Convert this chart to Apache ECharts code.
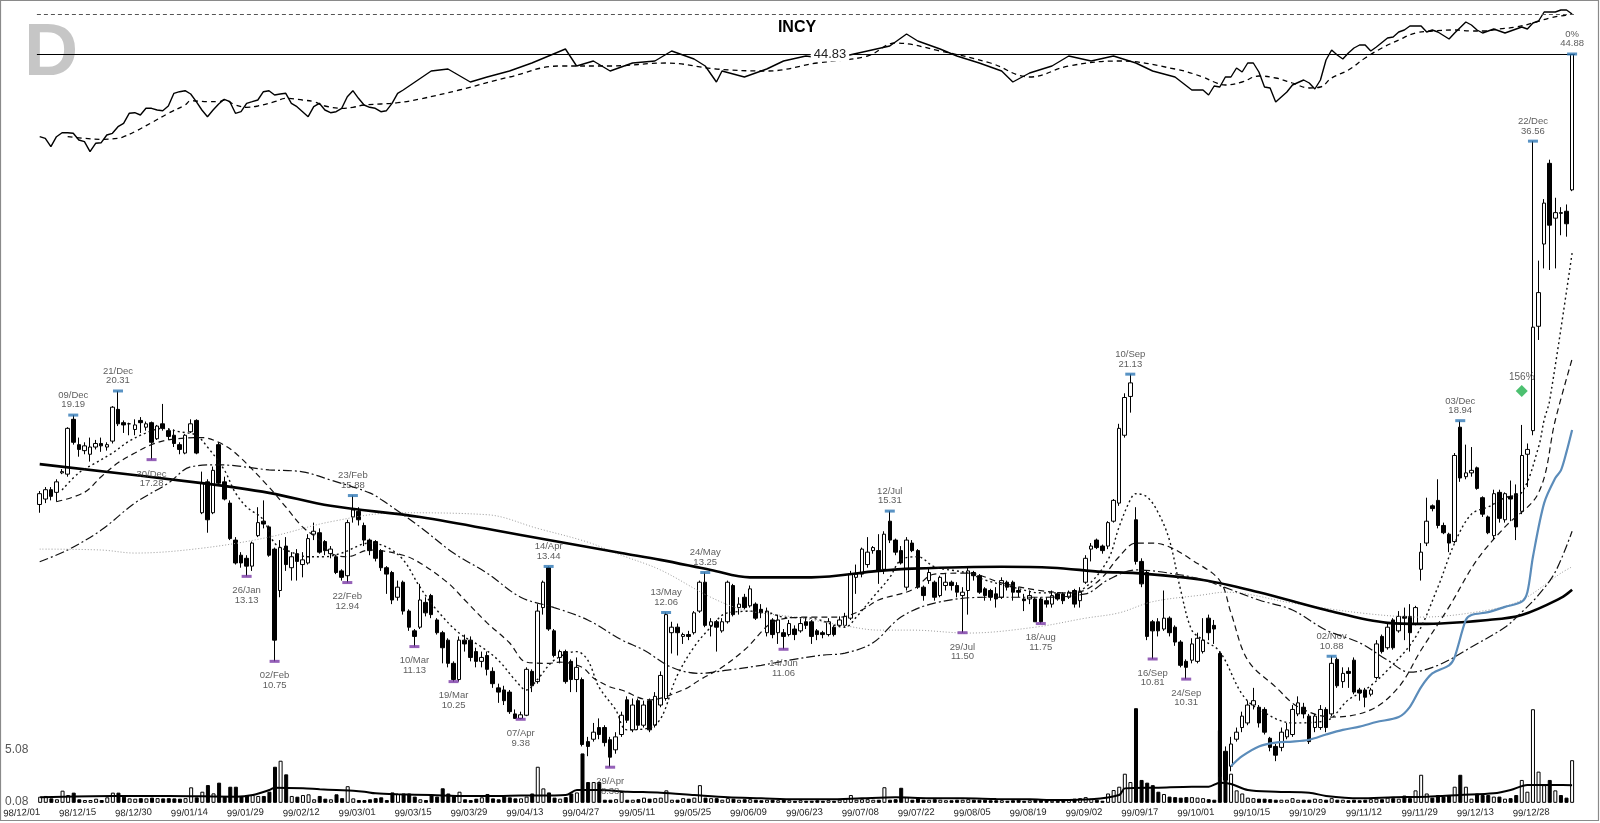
<!DOCTYPE html>
<html><head><meta charset="utf-8">
<script src="https://cdn.jsdelivr.net/npm/echarts@6/dist/echarts.min.js"></script>
<style>html,body{margin:0;padding:0;background:#fff}#c{width:1600px;height:823px}</style>
</head><body><div id="c"></div>
<script>
// ---- calendar (trading days, NYSE holidays) ----
const holidays = ['1998-12-25','1999-01-01','1999-01-18','1999-02-15','1999-04-02','1999-05-31','1999-07-05','1999-09-06','1999-11-25','1999-12-24'];
function tradingDays(y0,m0,d0,y1,m1,d1){
  const out=[]; let t=Date.UTC(y0,m0-1,d0); const end=Date.UTC(y1,m1-1,d1);
  while(t<=end){const d=new Date(t);const wd=d.getUTCDay();
    const iso=d.toISOString().slice(0,10);
    if(wd!==0&&wd!==6&&holidays.indexOf(iso)<0){
      out.push(String(d.getUTCFullYear()%100).padStart(2,'0')+'/'+String(d.getUTCMonth()+1).padStart(2,'0')+'/'+String(d.getUTCDate()).padStart(2,'0'));}
    t+=86400000;}
  return out;
}
const dates = tradingDays(1998,12,1,2000,1,3);

// ---- OHLC: [open, close, low, high] ----
const ohlc = [
[15.55,15.95,15.25,16.05],[15.75,16.1,15.6,16.2],[16.1,15.85,15.7,16.2],[16.0,16.4,15.65,16.5],[16.75,16.8,16.7,16.9],
[16.7,18.6,16.6,18.65],[19.0,18.0,17.9,19.19],[17.9,17.7,17.4,18.2],[17.65,17.85,17.5,18.0],[17.5,17.8,17.2,18.2],
[17.8,17.95,17.7,18.1],[17.95,17.85,17.6,18.2],[17.8,17.9,17.65,18.0],[18.05,19.55,17.95,19.6],[19.45,18.8,18.7,20.31],
[18.85,18.75,18.4,18.95],[18.8,18.8,18.3,18.85],[18.55,18.75,18.3,19.0],[18.95,18.85,18.4,19.1],[18.65,18.8,18.5,18.9],
[18.85,18.0,17.28,18.9],[18.15,18.7,18.1,18.75],[18.8,18.6,18.5,19.7],[18.5,18.25,18.1,18.6],[18.3,17.95,17.8,18.55],
[17.9,17.7,17.5,18.0],[17.55,18.3,17.5,18.35],[18.45,18.8,18.4,19.0],[18.95,17.55,17.5,19.0],[15.25,16.35,15.2,16.8],
[16.4,15.0,14.55,16.5],[15.25,16.85,15.2,17.0],[17.9,16.35,16.3,18.0],[16.4,15.75,15.7,16.6],[15.6,14.35,14.3,15.7],
[14.3,13.55,13.5,14.4],[13.8,13.55,13.4,13.9],[13.7,13.45,13.13,13.8],[13.45,14.2,13.3,14.25],[14.45,14.9,14.4,15.45],
[14.95,14.85,14.7,15.7],[14.75,13.8,13.75,14.8],[14.0,11.3,10.75,14.05],[12.7,14.05,12.5,14.3],[14.1,13.5,13.3,14.4],
[13.4,13.75,13.0,13.9],[13.85,13.6,13.0,14.0],[13.5,13.65,13.1,13.9],[13.55,14.35,13.5,14.5],[14.5,14.6,14.3,14.9],
[14.55,13.9,13.85,14.7],[14.25,13.95,13.8,14.3],[13.85,14.0,13.7,14.1],[13.75,13.25,13.2,13.8],[13.3,13.1,13.0,13.35],
[13.15,14.9,12.94,15.0],[15.1,15.35,14.9,15.88],[15.3,15.0,14.8,15.45],[14.8,14.3,14.1,14.9],[14.3,13.95,13.8,14.35],
[14.25,13.7,13.6,14.3],[13.95,13.4,13.3,14.0],[13.4,13.2,12.6,13.45],[13.25,12.42,12.3,13.3],[12.5,12.8,12.4,13.0],
[12.95,12.1,12.0,13.0],[12.1,11.65,11.55,12.15],[11.55,11.4,11.13,11.6],[11.65,12.42,11.6,12.9],[12.35,12.05,11.95,12.5],
[12.55,12.0,11.9,12.6],[11.85,11.5,11.45,11.9],[11.5,11.1,10.7,11.55],[11.3,10.7,10.6,11.35],[10.7,10.3,10.25,10.75],
[10.3,11.3,10.25,11.4],[11.3,11.2,11.0,11.45],[11.3,10.85,10.75,11.4],[11.0,10.75,10.6,11.1],[10.75,10.85,10.6,11.0],
[10.9,10.55,10.4,11.0],[10.5,10.2,10.1,10.6],[10.1,10.0,9.75,10.2],[10.05,9.8,9.7,10.15],[10.0,9.55,9.5,10.05],
[9.5,9.4,9.4,9.6],[9.4,9.48,9.38,9.55],[9.47,10.55,9.45,10.6],[10.5,10.15,10.0,10.55],[10.25,12.1,10.2,12.3],
[12.2,12.95,12.0,13.0],[13.4,11.6,11.55,13.44],[11.55,10.9,10.85,11.6],[10.85,11.0,10.7,11.05],[11.0,10.25,10.2,11.05],
[10.75,10.3,10.0,10.8],[10.3,10.6,10.0,10.85],[10.3,8.84,8.8,10.35],[8.9,8.8,8.6,9.0],[8.95,9.1,8.9,9.3],
[9.2,9.05,8.95,9.4],[9.2,8.88,8.8,9.25],[8.94,8.58,8.38,9.0],[8.73,9.0,8.65,9.1],[9.05,9.47,9.0,9.55],
[9.82,9.36,9.3,9.9],[9.15,9.7,9.1,9.85],[9.8,9.25,9.15,9.85],[9.25,9.7,9.2,9.8],[9.8,9.15,9.1,9.85],
[9.25,9.9,9.2,10.0],[9.7,10.4,9.65,10.5],[9.85,12.0,9.8,12.06],[11.5,11.65,10.95,11.8],[11.65,11.5,10.9,11.75],
[11.4,11.45,11.2,11.5],[11.45,11.4,11.3,11.55],[11.5,12.05,11.45,12.1],[12.1,12.95,12.05,13.0],[12.95,11.7,11.65,13.25],
[11.7,11.8,11.4,11.9],[11.8,11.65,11.0,11.85],[11.55,11.8,11.5,11.9],[11.8,12.95,11.75,13.0],[12.85,12.0,11.95,12.9],
[12.2,12.3,12.0,12.5],[12.5,12.2,12.15,12.6],[12.25,12.75,12.2,12.85],[12.3,11.9,11.85,12.35],[12.15,12.05,11.9,12.3],
[11.5,12.1,11.4,12.2],[11.85,11.45,11.35,11.9],[11.5,11.85,11.2,12.0],[11.5,11.4,11.06,11.6],[11.45,11.75,11.4,11.85],
[11.6,11.45,11.3,11.7],[11.55,11.75,11.5,11.9],[11.8,11.7,11.6,11.9],[11.8,11.4,11.2,11.85],[11.55,11.45,11.3,11.6],
[11.5,11.45,11.35,11.55],[11.45,11.8,11.4,11.9],[11.65,11.45,11.4,11.7],[11.7,11.85,11.65,11.95],[11.7,11.95,11.65,12.05],
[11.9,13.2,11.85,13.3],[13.1,13.2,12.6,13.5],[13.2,14.0,13.1,14.05],[13.5,13.9,13.4,14.4],[13.95,14.05,13.85,14.1],
[13.95,13.3,12.9,14.5],[13.35,14.5,13.2,14.6],[14.95,14.3,14.2,15.31],[14.3,13.9,13.8,14.35],[13.95,13.55,13.5,14.1],
[12.8,14.3,12.7,14.4],[14.2,13.95,13.9,14.3],[13.95,12.8,12.75,14.0],[12.8,12.55,12.4,12.85],[13.0,13.25,12.9,13.4],
[12.95,12.5,12.4,13.0],[12.55,13.1,12.5,13.15],[12.85,12.95,12.7,13.2],[12.95,12.85,12.7,13.0],[12.85,12.65,12.5,12.95],
[12.55,12.65,11.5,12.8],[12.7,13.3,12.0,13.4],[13.25,13.15,13.0,13.3],[13.15,12.65,12.6,13.2],[12.75,12.55,12.4,12.8],
[12.7,12.5,12.4,12.75],[12.6,12.45,12.2,12.8],[12.5,13.0,12.45,13.1],[12.95,12.8,12.7,13.0],[12.95,12.65,12.4,13.0],
[12.7,12.65,12.5,12.8],[12.45,12.4,12.1,12.6],[12.45,12.55,12.3,12.7],[12.45,11.8,11.8,12.5],[12.45,11.8,11.75,12.5],
[12.4,12.3,12.2,12.5],[12.3,12.55,12.2,12.7],[12.6,12.45,12.4,12.65],[12.6,12.4,12.3,12.65],[12.5,12.65,12.45,12.7],
[12.7,12.3,12.2,12.75],[12.4,12.65,12.2,12.8],[12.95,13.7,12.9,13.8],[14.0,14.1,13.6,14.2],[14.3,14.05,14.0,14.35],
[14.1,13.95,13.85,14.15],[14.1,14.9,14.0,14.95],[14.95,15.7,14.9,15.75],[15.6,18.6,15.5,18.8],[18.3,20.0,18.2,20.2],
[20.05,20.7,19.3,21.13],[15.0,13.6,13.5,15.45],[13.6,12.9,12.8,13.7],[13.25,11.4,11.3,13.3],[11.8,11.55,10.81,11.85],
[11.8,11.55,11.4,11.9],[11.6,11.9,11.55,12.7],[11.9,11.5,11.4,11.95],[11.65,11.25,11.15,11.7],[11.25,10.65,10.6,11.3],
[10.75,10.6,10.31,10.8],[10.78,11.2,10.7,11.35],[10.75,11.35,10.7,11.5],[11.0,11.3,10.95,11.9],[11.9,11.5,11.3,12.0],
[11.7,11.6,11.2,11.85],[10.95,8.2,7.9,11.0],[8.7,8.13,8.0,8.8],[8.4,8.85,8.3,9.0],[8.95,9.1,8.9,9.2],
[9.2,9.45,9.1,9.55],[9.3,9.7,9.25,9.8],[9.7,9.8,9.6,10.1],[9.65,9.3,9.2,9.7],[9.6,9.1,9.05,9.65],
[8.97,8.78,8.7,9.0],[8.8,8.62,8.5,8.85],[8.78,9.1,8.7,9.2],[9.0,9.15,8.95,9.3],[9.05,9.6,9.0,9.7],
[9.5,9.75,9.45,9.9],[9.65,9.5,9.4,9.75],[9.45,8.9,8.85,9.5],[9.2,9.45,9.1,9.5],[9.2,9.6,9.15,9.7],
[9.6,9.2,9.1,9.65],[9.5,10.7,9.45,10.88],[10.8,10.15,10.1,10.85],[10.25,10.45,10.1,10.6],[10.5,10.45,10.1,10.6],
[10.78,10.0,9.95,10.85],[10.05,9.98,9.8,10.1],[10.05,9.88,9.65,10.1],[9.95,10.05,9.9,10.1],[10.35,11.2,10.3,11.3],
[11.4,11.0,10.95,11.45],[11.1,11.65,11.05,11.75],[11.85,11.1,11.05,11.9],[11.55,11.95,11.5,12.1],[11.95,11.9,11.3,12.2],
[11.95,11.5,11.0,12.3],[11.75,12.2,11.7,12.25],[13.35,13.9,13.0,14.2],[14.2,14.95,14.1,15.8],[15.5,15.4,15.3,15.55],
[15.7,14.8,14.7,16.5],[14.8,14.55,14.5,14.9],[14.5,14.2,13.9,14.55],[14.25,17.45,14.2,17.55],[18.65,16.55,16.4,18.94],
[16.6,16.75,16.5,17.9],[16.75,16.85,16.6,17.8],[16.95,16.15,16.1,17.0],[15.8,15.2,15.1,15.85],[15.1,14.55,14.5,15.15],
[14.45,15.95,14.3,16.1],[16.0,15.05,14.9,16.1],[15.0,15.95,14.9,16.0],[15.85,15.75,14.95,16.45],[15.95,14.75,14.3,16.3],
[15.3,17.45,15.2,18.75],[17.5,17.7,16.2,17.95],[18.5,23.6,18.3,36.56],[23.65,25.6,22.9,27.6],[28.7,31.6,27.1,31.9],
[34.7,30.0,27.0,35.0],[30.5,30.9,27.1,32.0],[30.9,30.85,29.3,31.3],[31.0,30.1,29.2,31.5],[32.6,44.83,32.5,44.88]
];

// ---- volume ----
const volume = [
0.59,0.66,0.43,0.34,1.17,0.75,0.98,0.34,0.27,0.27, 0.4,0.27,0.53,0.98,0.98,0.59,0.43,0.4,0.45,0.43,
0.5,0.45,0.43,0.45,0.43,0.4,0.45,1.49,0.53,1.07, 1.71,0.91,1.94,0.59,1.55,1.55,0.66,0.75,0.75,0.66,
0.66,1.07,3.47,4.05,2.74,0.66,0.59,0.75,0.82,0.34, 0.66,0.4,0.34,0.82,0.45,1.6,0.43,0.27,0.27,0.34,
0.45,0.53,0.27,1.0,0.85,0.9,0.9,0.6,0.34,0.27, 0.75,0.6,1.4,0.9,0.65,1.07,0.34,0.27,0.4,0.53,
0.85,0.43,0.34,0.6,0.53,0.43,0.43,0.6,0.9,3.47, 1.39,1.0,0.5,0.4,0.55,0.9,1.0,4.75,2.0,2.0,
2.0,0.3,0.3,0.35,1.05,0.3,0.3,0.35,0.5,0.4, 0.45,0.5,1.2,0.3,0.3,0.45,0.4,0.5,1.7,0.5,
0.45,0.45,0.3,0.45,0.4,0.3,0.35,0.35,0.3,0.25, 0.3,0.3,0.25,0.3,0.25,0.2,0.25,0.2,0.2,0.25,
0.2,0.25,0.2,0.3,0.4,0.75,0.3,0.35,0.35,0.3, 0.3,1.5,0.3,0.35,1.45,0.55,0.3,0.45,0.3,0.3,
0.35,0.3,0.25,0.25,0.3,0.3,0.35,0.3,0.3,0.3, 0.25,0.25,0.25,0.2,0.25,0.3,0.2,0.25,0.3,0.3,
0.25,0.2,0.2,0.25,0.3,0.4,0.45,0.55,0.4,0.3, 0.2,0.9,1.23,1.55,2.8,2.0,9.1,2.2,1.94,1.7,
1.07,0.85,0.6,0.55,0.5,0.55,0.55,0.5,0.45,0.35, 0.3,7.0,4.75,2.8,1.2,0.9,0.5,0.45,0.4,0.4,
0.35,0.3,0.3,0.3,0.45,0.3,0.3,0.3,0.4,0.35, 0.3,0.45,0.3,0.3,0.25,0.3,0.25,0.3,0.35,0.4,
0.35,0.5,0.45,0.4,0.7,0.45,1.2,2.7,0.9,0.5, 0.75,0.6,0.75,1.55,2.7,1.55,0.4,0.9,0.75,0.75,
0.6,0.6,0.4,0.45,0.75,2.2,1.07,9.0,3.0,1.7, 2.2,1.2,0.75,0.5,4.1
];
const volMaPts = [[0,0.53],[13,0.66],[23,0.66],[35,0.59],[38,0.75],[41,1.23],[42,1.46],[47,1.4],[50,1.3],[53,1.23],[56,1.17],[58,1.07],[60,0.91],[64,0.82],[70,0.75],[76,0.66],[82,0.66],[86,0.7],[89,0.7],[94,0.75],[96,1.23],[100,1.23],[105,1.07],[111,0.98],[117,0.75],[123,0.53],[129,0.44],[135,0.34],[141,0.34],[147,0.44],[153,0.53],[159,0.44],[165,0.44],[171,0.37],[177,0.34],[182,0.27],[188,0.34],[193,0.75],[194,1.39],[200,1.46],[206,1.55],[209,1.55],[211,1.94],[213,1.81],[216,1.23],[221,1.07],[227,0.98],[230,0.66],[236,0.44],[242,0.53],[248,0.59],[254,0.75],[260,0.91],[263,1.23],[266,1.71],[271,1.71],[274,1.7]];

// ---- moving averages: [dayIndex, price] ----
const ma200Pts = [[0,17.1],[29,16.35],[41,15.98],[52,15.5],[68,15.1],[86,14.47],[104,13.87],[111,13.65],[120,13.33],[127,13.1],[138,13.1],[150,13.3],[156,13.37],[172,13.43],[181,13.4],[190,13.27],[196,13.23],[208,13.02],[218,12.65],[230,12.13],[241,11.77],[247,11.74],[259,11.85],[265,11.99],[272,12.48],[274,12.72]];
const ma100Pts = [[0,14.0],[11,13.97],[17,13.87],[29,14.03],[41,14.4],[52,14.93],[64,15.25],[80,15.18],[89,14.7],[98,14.23],[104,13.8],[111,13.33],[120,12.5],[126,12.13],[135,11.93],[144,11.69],[150,11.57],[156,11.57],[166,11.49],[178,11.65],[187,11.9],[193,12.05],[199,12.37],[208,12.57],[212,12.65],[224,12.33],[236,12.05],[247,11.93],[259,12.13],[265,12.42],[272,13.23],[274,13.43]];
const ma50Pts = [[0,13.59],[5,13.97],[11,14.64],[17,15.6],[23,16.35],[27,16.99],[32,17.07],[41,16.87],[47,16.79],[52,16.47],[59,15.98],[62,15.6],[68,14.75],[74,13.87],[80,13.23],[86,12.5],[92,12.2],[98,11.85],[104,11.31],[108,11.04],[113,10.6],[118,10.45],[123,10.53],[129,10.65],[134,10.78],[140,10.91],[144,10.96],[149,11.23],[154,11.93],[160,12.33],[169,12.5],[178,12.5],[187,12.6],[191,13.02],[196,13.33],[202,13.23],[208,13.02],[218,12.42],[224,12.13],[230,11.57],[236,11.23],[241,10.78],[245,10.48],[250,10.65],[256,11.12],[262,11.65],[265,12.07],[268,12.57],[271,13.27],[274,14.6]];
const ma20Pts = [[3,15.65],[8,16.0],[11,16.6],[14,17.15],[17,17.55],[20,17.9],[23,18.1],[29,18.2],[32,18.0],[35,17.55],[41,16.2],[44,15.46],[47,14.75],[50,14.3],[52,13.87],[55,13.75],[59,13.97],[65,13.8],[68,13.55],[73,12.93],[76,12.42],[80,11.77],[84,11.23],[87,10.73],[91,10.7],[93,10.73],[97,10.6],[99,10.34],[102,10.12],[104,10.05],[109,9.82],[115,10.05],[118,10.29],[122,10.6],[126,11.04],[132,11.85],[138,11.93],[143,11.93],[147,12.13],[150,12.42],[156,12.72],[160,13.2],[166,13.23],[172,12.93],[178,12.72],[184,12.63],[187,12.72],[190,13.1],[193,13.75],[196,14.2],[199,14.2],[202,14.07],[206,13.65],[211,13.0],[213,12.05],[216,10.78],[221,10.12],[225,9.66],[231,9.43],[238,9.59],[243,10.12],[247,11.04],[252,12.22],[257,13.65],[262,14.75],[268,15.98],[271,18.97],[274,21.9]];
const ma10Pts = [[4,16.09],[7,16.75],[10,17.15],[13,17.55],[16,18.05],[19,18.4],[22,18.6],[25,18.45],[28,18.3],[30,17.8],[33,16.87],[35,15.98],[37,15.46],[40,15.0],[42,14.2],[45,13.9],[48,13.75],[51,13.75],[54,13.87],[59,14.2],[62,14.07],[65,13.65],[68,12.8],[71,12.13],[75,11.49],[79,11.12],[82,10.78],[85,10.29],[87,10.05],[89,10.3],[92,10.78],[96,11.0],[98,10.78],[100,10.12],[103,9.59],[105,9.15],[110,9.25],[114,10.4],[117,11.12],[120,11.65],[123,12.05],[129,12.1],[133,11.93],[138,11.9],[144,11.65],[146,11.93],[149,12.5],[152,13.1],[154,13.65],[157,13.75],[160,13.43],[166,13.23],[169,13.02],[174,12.8],[179,12.63],[184,12.63],[187,12.8],[191,13.65],[193,14.75],[195,15.72],[196,15.95],[198,15.83],[200,15.25],[202,14.3],[204,12.72],[206,11.57],[208,11.31],[211,11.0],[215,9.95],[218,9.6],[224,9.3],[230,9.35],[234,9.82],[237,10.05],[241,10.53],[246,11.38],[250,12.8],[253,14.2],[256,15.2],[259,15.46],[262,15.8],[265,16.0],[268,17.8],[269,18.97],[270,19.88],[274,28.1]];
const bluePts = [[213,8.4],[215,8.6],[218,8.8],[221,8.88],[224,8.9],[227,8.94],[230,9.05],[233,9.15],[236,9.22],[239,9.32],[243,9.43],[245,9.66],[247,10.12],[249,10.45],[252,10.65],[253,10.86],[255,11.85],[256,11.99],[259,12.07],[262,12.22],[265,12.37],[266,12.65],[267,13.75],[269,15.6],[271,16.55],[272,16.85],[273,17.6],[274,18.53]];

// ---- relative strength panel ----
const rsPts = [[0,23.3],[1,21.7],[2,13.3],[3,23.3],[4,27.3],[5,27.3],[6,26.7],[7,20],[8,18.3],[9,8.3],[10,16.7],[11,17.3],[12,25],[13,26.7],[14,33.3],[15,36.7],[16,46.7],[17,47.3],[18,45],[19,51.7],[20,51.7],[21,50],[22,49.3],[23,54],[24,66.7],[25,68.3],[26,69.3],[27,66],[28,58.3],[29,50],[30,43.3],[31,50],[32,56],[33,60.7],[34,58.3],[35,46.7],[36,48.3],[37,56.7],[38,58.3],[39,60],[40,68.3],[41,69.3],[42,65],[43,66],[44,66.7],[45,56.7],[46,53.3],[47,48.3],[48,43.3],[49,53.3],[50,56.7],[51,50],[52,47.3],[53,48.3],[54,51.7],[55,63.3],[56,69.3],[57,61.7],[58,55],[59,52.7],[60,51.7],[61,48.3],[62,49.3],[63,56.7],[64,66.7],[65,70],[70,89],[73,91],[77,78],[80,83],[84,89],[88,97],[91,104],[94,111],[96,94],[99,99],[102,89],[106,97],[110,99],[113,109],[117,101],[119,94],[121,78],[122,89],[126,83],[130,91],[133,99],[137,104],[141,101],[144,104],[148,109],[152,114],[155,126],[157,119],[161,111],[164,104],[168,97],[172,89],[174,78],[177,87],[181,94],[184,104],[188,99],[192,104],[196,97],[199,89],[203,83],[206,70],[208,70],[209,65],[210,74],[211,73],[212,83],[213,83],[214,92],[215,88],[216,97],[217,97],[218,88],[219,73],[220,72],[221,58],[222,63],[223,68],[224,75],[226,80],[227,77],[228,71],[229,80],[230,100],[231,110],[232,105],[233,101],[234,107],[235,112],[236,115],[237,115],[238,109],[239,113],[241,122],[242,123],[243,128],[244,130],[245,134],[246,134],[247,134],[248,128],[249,130],[250,128],[252,121],[253,127],[255,138],[256,135],[257,130],[258,127],[259,129],[260,131],[262,127],[263,129],[264,131],[265,133],[266,131],[267,137],[268,139],[269,148],[270,148],[271,148],[272,150],[273,150],[274,146]];
const rsMaPts = [[5,23.3],[8,21.7],[11,20.7],[14,21.7],[15,23.3],[17,28.3],[20,37.3],[23,46.7],[26,55],[27,59.3],[30,58.3],[32,58.3],[33,60],[35,55],[37,52.7],[39,54],[42,58.3],[44,61.7],[47,60],[49,58.3],[51,54],[54,51.7],[56,52.7],[58,55],[61,56],[64,57.3],[68,61],[75,70],[84,83],[93,94],[102,94],[112,97],[121,91],[130,89],[139,97],[148,104],[153,117],[161,109],[170,97],[177,83],[184,94],[193,99],[203,91],[208,83],[210,78],[212,75],[215,78],[218,84],[221,82],[224,77],[227,72],[229,73],[231,82],[234,90],[237,102],[240,112],[243,120],[246,127],[249,129],[253,130],[256,129],[258,129],[261,131],[264,133],[267,137],[270,142],[273,145],[274,146]];
const rsLevel = 146;
const lastClose = 44.83;

// ---- swing annotations ----
const highIdx = [6,14,56,91,112,119,152,195,231,254,267,274];
const highVal = [19.19,20.31,15.88,13.44,12.06,13.25,15.31,21.13,10.88,18.94,36.56,44.88];
const highTxt = ['09/Dec','21/Dec','23/Feb','14/Apr','13/May','24/May','12/Jul','10/Sep','02/Nov','03/Dec','22/Dec','0%'];
const lowIdx = [20,37,42,55,67,74,86,102,133,165,179,199,205];
const lowVal = [17.28,13.13,10.75,12.94,11.13,10.25,9.38,8.38,11.06,11.50,11.75,10.81,10.31];
const lowTxt = ['30/Dec','26/Jan','02/Feb','22/Feb','10/Mar','19/Mar','07/Apr','29/Apr','14/Jun','29/Jul','18/Aug','16/Sep','24/Sep'];
const signalIdx = 265, signalVal = 20.31, signalTxt = '156%';

// ---------------------------------------------------------------
const FONT = 'Liberation Sans, Arial, sans-serif';
const GL = 36.9, GW = 1538;
const chart = echarts.init(document.getElementById('c'), null, {renderer:'canvas'});
const lblStyle = {fontFamily:FONT, fontSize:9.5, lineHeight:9.5, color:'#333'};
function maLine(name, pts, style, extra){
  return Object.assign({name, type:'line', xAxisIndex:0, yAxisIndex:0, data:pts, showSymbol:false, smooth:0.35,
    lineStyle:style, silent:true, z:4}, extra||{});
}
const option = {
  animation:false,
  backgroundColor:'#fff',
  grid:[
    {left:GL, width:GW, top:8.09, height:806.27},
    {left:GL, width:GW, top:750, height:52},
    {left:GL, width:GW, top:0, height:160}
  ],
  xAxis:[0,1,2].map(g=>({type:'category', gridIndex:g, data:dates, boundaryGap:true,
    axisLine:{show:false}, axisTick:{show:false}, splitLine:{show:false},
    axisLabel: g===1 ? {show:true, interval:9, rotate:3, margin:10, fontFamily:FONT, fontSize:9.5, color:'#222'} : {show:false}})),
  yAxis:[
    {type:'log', logBase:10, gridIndex:0, min:7.5, max:50, show:false},
    {type:'value', gridIndex:1, min:0.08, max:5.08, interval:5, axisLine:{show:false}, axisTick:{show:false}, splitLine:{show:false},
      axisLabel:{show:true, margin:9, fontFamily:FONT, fontSize:12, color:'#555', formatter:v=>v.toFixed(2)}},
    {type:'value', gridIndex:2, min:0, max:160, show:false}
  ],
  series:[
    {name:'INCY', type:'candlestick', xAxisIndex:0, yAxisIndex:0, data:ohlc, barWidth:4, z:3,
      itemStyle:{color:'#fff', color0:'#000', borderColor:'#000', borderColor0:'#000', borderWidth:1},
      markLine:{silent:true, symbol:'none', label:{show:false}, lineStyle:{color:'#000', width:1.2, type:'solid'}, data:[{yAxis:lastClose}]}
    },
    maLine('MA100', ma100Pts, {color:'#9a9a9a', width:1, type:[1,2]}),
    maLine('MA200', ma200Pts, {color:'#000', width:2.6}),
    maLine('MA50', ma50Pts, {color:'#111', width:1.2, type:[9,3,2,3]}),
    maLine('MA20', ma20Pts, {color:'#111', width:1.2, type:[6,4]}),
    maLine('MA10', ma10Pts, {color:'#111', width:1.4, type:[2,3]}),
    maLine('Trail', bluePts, {color:'#5b8cba', width:2.2}, {smooth:0.3}),
    {name:'highs', type:'scatter', xAxisIndex:0, yAxisIndex:0, symbol:'rect', symbolSize:[10,3], z:6, silent:true,
      itemStyle:{color:'#2f78b5'},
      data: highIdx.map((ix,k)=>({value:[ix, highVal[k]], lbl: highTxt[k]+'\n'+highVal[k].toFixed(2)})),
      label:{show:true, position:'top', distance:4, formatter:p=>p.data.lbl, align:'center', ...lblStyle}},
    {name:'lows', type:'scatter', xAxisIndex:0, yAxisIndex:0, symbol:'rect', symbolSize:[10,3], z:6, silent:true,
      itemStyle:{color:'#7a3aa6'},
      data: lowIdx.map((ix,k)=>({value:[ix, lowVal[k]], lbl: lowTxt[k]+'\n'+lowVal[k].toFixed(2)})),
      label:{show:true, position:'bottom', distance:8, formatter:p=>p.data.lbl, align:'center', ...lblStyle}},
    {name:'signal', type:'scatter', xAxisIndex:0, yAxisIndex:0, symbol:'diamond', symbolSize:12, z:6, silent:true,
      itemStyle:{color:'#1fb04c'}, data:[{value:[signalIdx, signalVal]}],
      label:{show:true, position:'top', distance:3, formatter:signalTxt, fontFamily:FONT, fontSize:10, color:'#333'}},
    {name:'Volume', type:'bar', xAxisIndex:1, yAxisIndex:1, barWidth:4, clip:false, z:2, silent:true,
      data: volume.map((v,i)=>{const up = ohlc[i][1] >= ohlc[i][0];
        return {value:v, itemStyle:{color: up?'#fff':'#000', borderColor:'#000', borderWidth:1}};})},
    {name:'VolMA', type:'line', xAxisIndex:1, yAxisIndex:1, data:volMaPts, showSymbol:false, smooth:0.3, silent:true, z:4,
      lineStyle:{color:'#000', width:2}},
    {name:'RS', type:'line', xAxisIndex:2, yAxisIndex:2, data:rsPts, showSymbol:false, silent:true, z:4,
      lineStyle:{color:'#000', width:1.4},
      markLine:{silent:true, symbol:'none', label:{show:false}, lineStyle:{color:'#555', width:1, type:[4,3]}, data:[{yAxis:rsLevel}]}},
    {name:'RS MA', type:'line', xAxisIndex:2, yAxisIndex:2, data:rsMaPts, showSymbol:false, smooth:0.4, silent:true, z:3,
      lineStyle:{color:'#000', width:1.3, type:[5,4]}}
  ],
  graphic:[
    {type:'rect', silent:true, z:100, shape:{x:0.5, y:0.5, width:1598, height:820}, style:{fill:'none', stroke:'#8a8a8a', lineWidth:1.2}},
    {type:'text', silent:true, z:1, style:{x:24, y:54, text:'D', font:'bold 75px '+FONT, fill:'#c6c6c6', textAlign:'left', textVerticalAlign:'middle'}},
    {type:'text', silent:true, z:50, style:{x:797, y:28, text:'INCY', font:'bold 16px '+FONT, fill:'#000', textAlign:'center', textVerticalAlign:'middle'}},
    {type:'text', silent:true, z:50, style:{x:830, y:54, text:String(lastClose), font:'13px '+FONT, fill:'#222', textAlign:'center', textVerticalAlign:'middle', backgroundColor:'#fff', padding:[1,3]}}
  ]
};
chart.setOption(option);
</script>
</body></html>
